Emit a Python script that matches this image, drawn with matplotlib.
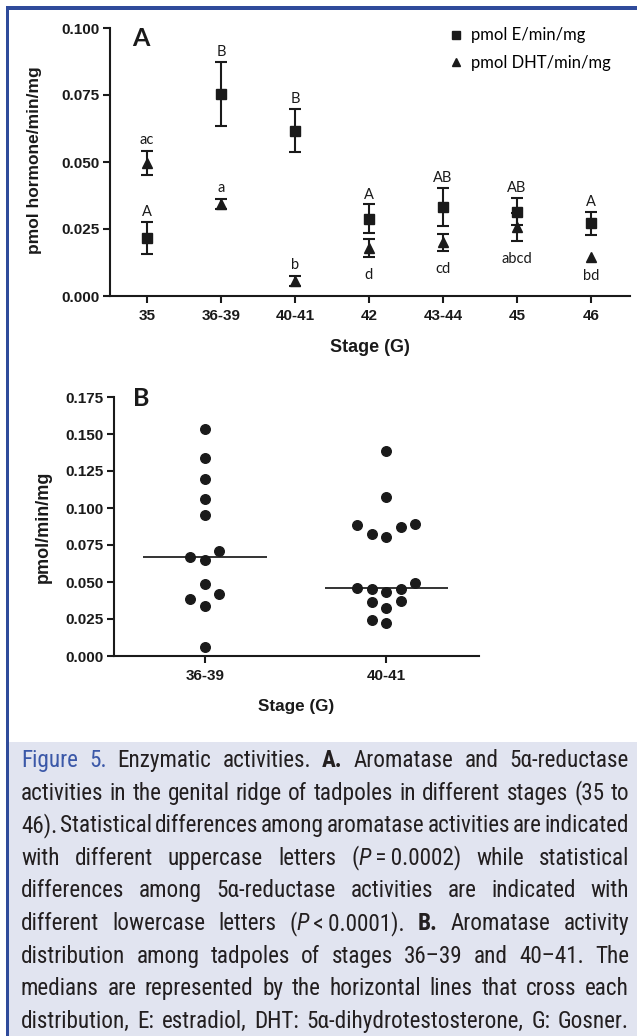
import re
import numpy as np
import matplotlib
matplotlib.use("Agg")
import matplotlib.pyplot as plt
from matplotlib.lines import Line2D
from matplotlib.patches import Rectangle
from matplotlib import font_manager

# ---- panel A : mean +/- SEM per Gosner stage ----
stages = ["35", "36-39", "40-41", "42", "43-44", "45", "46"]
e_mean = [0.0217, 0.0754, 0.0617, 0.0289, 0.0333, 0.0315, 0.0271]
e_sem = [0.0059, 0.0121, 0.0080, 0.0053, 0.0070, 0.0050, 0.0042]
dht_mean = [0.0495, 0.0342, 0.0056, 0.0180, 0.0201, 0.0259, 0.0144]
dht_sem = [0.0045, 0.0019, 0.0019, 0.0034, 0.0032, 0.0052, 0.0]
upper_letters = ["A", "B", "B", "A", "AB", "AB", "A"]
lower_letters = ["ac", "a", "b", "d", "cd", "abcd", "bd"]
yticks_a = [0.000, 0.025, 0.050, 0.075, 0.100]

# ---- panel B : individual aromatase activities ----
groups_b = ["36-39", "40-41"]
act_3639 = [0.1536, 0.1336, 0.1194, 0.1061, 0.0953, 0.0669, 0.0651, 0.0711,
            0.0489, 0.0383, 0.0419, 0.0340, 0.0061]
act_4041 = [0.1385, 0.1072, 0.0883, 0.0822, 0.0802, 0.0874, 0.0892, 0.0491,
            0.0451, 0.0430, 0.0451, 0.0461, 0.0365, 0.0322, 0.0374, 0.0221, 0.0243]
yticks_b = [0.000, 0.025, 0.050, 0.075, 0.100, 0.125, 0.150, 0.175]

# ---- caption (one entry per printed line) ----
cap_lines = [
    "<c>Figure</c> <c>5.</c> Enzymatic activities. <b>A.</b> Aromatase and 5\u03b1-reductase",
    "activities in the genital ridge of tadpoles in different stages (35 to",
    "46). Statistical differences among aromatase activities are indicated",
    "with different uppercase letters (<i>P</i>\u2009=\u20090.0002) while statistical",
    "differences among 5\u03b1-reductase activities are indicated with",
    "different lowercase letters (<i>P</i>\u2009<\u20090.0001). <b>B.</b> Aromatase activity",
    "distribution among tadpoles of stages 36\u201339 and 40\u201341. The",
    "medians are represented by the horizontal lines that cross each",
    "distribution, E: estradiol, DHT: 5\u03b1-dihydrotestosterone, G: Gosner.",
]

plt.rcParams["font.family"] = ["Liberation Sans", "DejaVu Sans"]
INK = "#1a1a1a"

W, H = 637, 1036
fig = plt.figure(figsize=(W / 100, H / 100), dpi=100)
renderer = fig.canvas.get_renderer()


def fx(px):
    return px / W


def fy(py):
    return 1 - py / H


def style_axis(ax, ticks):
    ax.spines[["top", "right"]].set_visible(False)
    for s in ("left", "bottom"):
        ax.spines[s].set_linewidth(1.5)
        ax.spines[s].set_color(INK)
    ax.tick_params(width=1.5, length=5, color=INK, labelcolor=INK)
    ax.tick_params(axis="y", pad=2.5)
    ax.tick_params(axis="x", pad=4)
    ax.set_yticks(ticks)
    ax.set_yticklabels([f"{t:.3f}" for t in ticks], fontweight="bold", fontsize=11)


# ================= panel A =================
axA = fig.add_axes([fx(110), fy(296), fx(630) - fx(110), fy(28) - fy(296)])
x = np.arange(len(stages))
e_mean_a, e_sem_a = np.array(e_mean), np.array(e_sem)
d_mean_a, d_sem_a = np.array(dht_mean), np.array(dht_sem)
has_bar = d_sem_a > 0
axA.errorbar(x, e_mean_a, yerr=e_sem_a, fmt="none", ecolor=INK, elinewidth=1.5,
             capsize=4, capthick=1.5, zorder=2)
axA.errorbar(x[has_bar], d_mean_a[has_bar], yerr=d_sem_a[has_bar], fmt="none", ecolor=INK,
             elinewidth=1.5, capsize=4, capthick=1.5, zorder=2)
axA.plot(x, e_mean_a, "s", color=INK, ms=7, zorder=3)
axA.plot(x, d_mean_a, "^", color=INK, ms=7.4, zorder=3)
axA.set_xlim(-0.5, 6.53)
axA.set_ylim(0, 0.1)
style_axis(axA, yticks_a)
axA.set_xticks(x)
axA.set_xticklabels(stages, fontweight="bold", fontsize=11)

for i in range(len(stages)):
    e_lo, e_hi = e_mean[i] - e_sem[i], e_mean[i] + e_sem[i]
    d_lo, d_hi = dht_mean[i] - dht_sem[i], dht_mean[i] + dht_sem[i]
    axA.annotate(upper_letters[i], (x[i], e_hi), xytext=(0, 4.2), textcoords="offset points",
                 ha="center", va="baseline", fontsize=10.5, family="Lato", color=INK)
    if dht_mean[i] > e_mean[i] or e_lo - d_hi > 0.01:
        axA.annotate(lower_letters[i], (x[i], d_hi), xytext=(0, 5.2), textcoords="offset points",
                     ha="center", va="baseline", fontsize=10.5, family="Lato", color=INK)
    else:
        axA.annotate(lower_letters[i], (x[i], min(e_lo, d_lo)), xytext=(0, -16),
                     textcoords="offset points", ha="center", va="baseline",
                     fontsize=10.5, family="Lato", color=INK)

handles = [Line2D([], [], marker="s", ls="none", color=INK, ms=5.6),
           Line2D([], [], marker="^", ls="none", color=INK, ms=6)]
axA.legend(handles, ["pmol E/min/mg", "pmol DHT/min/mg"], loc="upper left",
           bbox_to_anchor=(0.655, 1.002), frameon=False, prop={"family": "Lato", "size": 12},
           handlelength=0.7, handletextpad=0.55, labelspacing=0.68, borderaxespad=0, borderpad=0)

fig.text(fx(141), fy(38), "A", fontsize=18, fontweight="bold", family="Lato",
         ha="center", va="center", color=INK)
fig.text(fx(35), fy(160), "pmol hormone/min/mg", rotation=90, fontsize=12.5,
         fontweight="bold", ha="center", va="center", color=INK)
fig.text(fx(370), fy(347), "Stage (G)", fontsize=13, fontweight="bold",
         ha="center", va="center", color=INK)


# ================= panel B =================
def swarm_x(vals, center, row_h=0.0098, step=0.08):
    # group close values into rows, spread each row around the centre
    vals = np.asarray(vals)
    slots = [0, -1, 1, -2, 2, -3, 3]
    xs = np.zeros(len(vals))
    start, k = None, 0
    for i in np.argsort(vals, kind="stable"):
        if start is None or vals[i] - start >= row_h:
            start, k = vals[i], 0
        xs[i] = center + slots[k] * step
        k += 1
    return xs


axB = fig.add_axes([fx(114), fy(656), fx(479) - fx(114), fy(397) - fy(656)])
for gi, vals in enumerate([act_3639, act_4041]):
    axB.hlines(np.median(vals), gi - 0.34, gi + 0.34, color="#333333", lw=1.4, zorder=2)
    axB.plot(swarm_x(vals, gi), vals, "o", color=INK, ms=6.9, zorder=3, clip_on=False)
axB.set_xlim(-0.5, 1.51)
axB.set_ylim(0, 0.175)
style_axis(axB, yticks_b)
axB.set_xticks(range(len(groups_b)))
axB.set_xticklabels(groups_b, fontweight="bold", fontsize=11)

fig.text(fx(141), fy(399), "B", fontsize=18, fontweight="bold", family="Lato",
         ha="center", va="center", color=INK)
fig.text(fx(43), fy(527), "pmol/min/mg", rotation=90, fontsize=13,
         fontweight="bold", ha="center", va="center", color=INK)
fig.text(fx(296), fy(706), "Stage (G)", fontsize=12.3, fontweight="bold",
         ha="center", va="center", color=INK)

# ================= frame and caption =================
BLUE = "#2f4b9b"
fig.add_artist(Rectangle((fx(9), 0), 1, fy(742), transform=fig.transFigure,
                         color="#e1e4f0", lw=0, zorder=0))
fig.add_artist(Rectangle((fx(5.5), fy(10)), 1, 4 / H, transform=fig.transFigure,
                         color=BLUE, lw=0))
fig.add_artist(Rectangle((fx(5.5), 0), 3.3 / W, fy(6), transform=fig.transFigure,
                         color=BLUE, lw=0))

cap_size = 17
x0, x1 = 21, 629
base_y, line_gap = 767, 32.6
longest = max(cap_lines, key=len)


def regular_face(fam, stretch):
    # True only if an upright, regular-weight face of the family is installed
    for f in font_manager.fontManager.ttflist:
        if f.name != fam or f.style != "normal":
            continue
        if f.weight not in (400, "normal", "regular", "book"):
            continue
        if stretch == "condensed" and "ondensed" not in f.fname:
            continue
        return True
    return False


# pick the narrowest installed sans face for the condensed caption type
candidates = [("Liberation Sans Narrow", "normal"), ("Roboto Condensed", "normal"),
              ("Open Sans Condensed", "normal"), ("DejaVu Sans", "condensed"),
              ("Lato", "normal"), ("Roboto", "normal"), ("Liberation Sans", "normal")]
best, best_w = ("DejaVu Sans", "normal"), 1e9
for fam, stretch in candidates:
    if not regular_face(fam, stretch):
        continue
    t = fig.text(0, 0, re.sub(r"</?[bic]>", "", longest), fontsize=cap_size,
                 family=[fam, "DejaVu Sans"], fontstretch=stretch, fontweight="normal")
    w = t.get_window_extent(renderer).width
    t.remove()
    if w < best_w:
        best, best_w = (fam, stretch), w
cap_font, cap_stretch = best

tag_re = re.compile(r"(<[bic]>.*?</[bic]>)")
tag_style = {"b": {"fontweight": "bold"}, "i": {"fontstyle": "italic"}, "c": {"color": "#3b58a8"}}

lines = []
for line in cap_lines:
    words = []
    for w in line.split(" "):
        segs = []
        for part in tag_re.split(w):
            if not part:
                continue
            m = re.fullmatch(r"<([bic])>(.*?)</\1>", part)
            kw = {"color": "#231f20", "fontweight": "normal"}
            if m:
                kw.update(tag_style[m.group(1)])
                part = m.group(2)
            segs.append(fig.text(0, 0, part, fontsize=cap_size, family=[cap_font, "DejaVu Sans"],
                                 fontstretch=cap_stretch, ha="left", va="baseline", **kw))
        words.append(segs)
    lines.append(words)


def seg_w(t):
    return t.get_window_extent(renderer).width


# shrink the font if the longest line would not fit
need = max(sum(seg_w(s) for wd in ln for s in wd) + (len(ln) - 1) * 0.12 * cap_size * 100 / 72
           for ln in lines)
scale = min(1.0, (x1 - x0) / need)
if scale < 1.0:
    for ln in lines:
        for wd in ln:
            for s in wd:
                s.set_fontsize(cap_size * scale)

for li, ln in enumerate(lines):
    widths = [sum(seg_w(s) for s in wd) for wd in ln]
    gap = (x1 - x0 - sum(widths)) / max(len(ln) - 1, 1)
    cx = x0
    y = fy(base_y + li * line_gap)
    for wd, wdw in zip(ln, widths):
        sx = cx
        for s in wd:
            s.set_position((fx(sx), y))
            sx += seg_w(s)
        cx += wdw + gap

fig.savefig("out.png", dpi=100)
